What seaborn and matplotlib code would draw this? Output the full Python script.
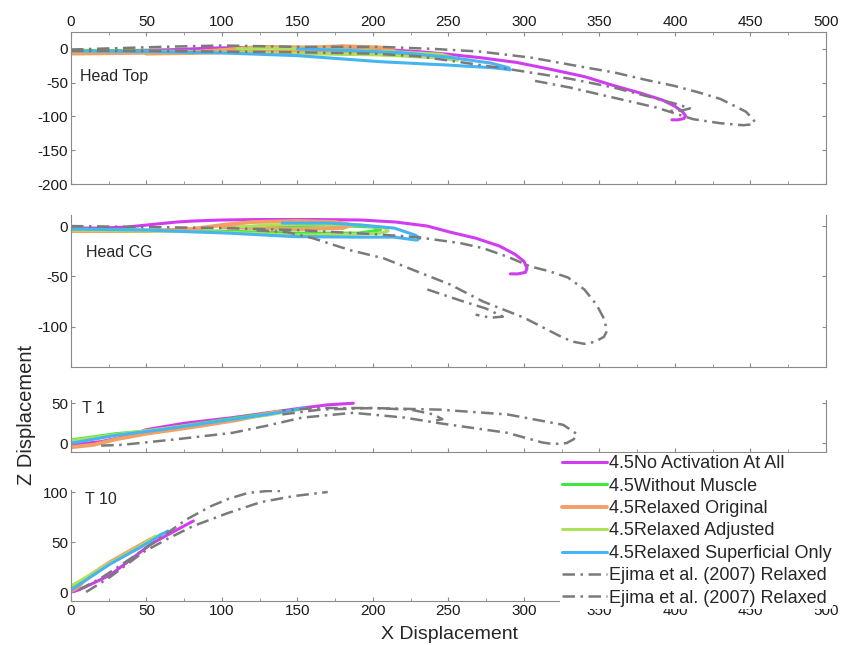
import matplotlib
matplotlib.use("Agg")
import matplotlib.pyplot as plt
import seaborn as sns
from matplotlib.ticker import MultipleLocator

sns.set_style("ticks")
plt.rcParams["font.family"] = ["Liberation Sans", "DejaVu Sans"]
plt.rcParams["axes.unicode_minus"] = False

SERIES = [
    "4.5No Activation At All",
    "4.5Without Muscle",
    "4.5Relaxed Original",
    "4.5Relaxed Adjusted",
    "4.5Relaxed Superficial Only",
    "Ejima et al. (2007) Relaxed",
    "Ejima et al. (2007) Relaxed ",
]
COLORS = ["#d23cf0", "#3ee83e", "#f2a064", "#aee15a", "#46b4f0", "#7a7a7a", "#7a7a7a"]

# ---- Head Top ----
top_noact_x = [0, 40, 70, 90, 110, 150, 200, 230, 250, 271, 295, 315, 340, 359, 378, 392, 400, 405, 407, 406, 402, 398]
top_noact_y = [-3, -2.5, -1, 1, 2, 2, 0, -4, -8, -13, -20, -29, -41, -54, -66, -76, -85, -93, -99, -103, -105, -105]
top_nomus_x = [0, 50, 100, 150, 200, 235, 248, 240, 215, 185, 150]
top_nomus_y = [-2, -3, -4, -6, -8, -11, -14, -9, -5, -2, 0]
top_orig_x = [0, 40, 80, 105, 125, 160, 180, 205, 214, 200, 170, 140, 110, 80, 50]
top_orig_y = [-7, -6, -5, -1, 3, 2, 4, 2, -3, -6, -5, -4, -5, -6, -7]
top_adj_x = [0, 50, 100, 150, 205, 240, 256, 255, 245, 220, 190, 160, 130, 110]
top_adj_y = [-3, -4, -5, -7, -9, -13, -17, -14, -8, -5, -2, 0, 1, 0]
top_sup_x = [0, 50, 100, 150, 205, 250, 280, 288, 291, 290, 278, 249, 220, 180, 150]
top_sup_y = [-3, -4, -6, -10, -19, -24, -28, -30, -31, -28, -21, -12, -6, -2, 0]
top_ej1_x = [0, 30, 60, 100, 150, 205, 240, 271, 305, 337, 360, 381, 400, 415, 430, 440, 447, 450, 453, 450, 445, 430, 412, 388, 359, 330, 304]
top_ej1_y = [-1, 1, 3, 5, 3, 3, 0, -4, -13, -26, -35, -46, -55, -64, -74, -85, -93, -100, -108, -112, -113, -110, -104, -87, -72, -57, -46]
top_ej2_x = [0, 50, 100, 150, 200, 230, 256, 293, 330, 359, 385, 400, 410, 405, 396]
top_ej2_y = [-3, -3, -4, -5, -7, -11, -19, -31, -44, -57, -72, -81, -88, -91, -92]

# ---- Head CG ----
cg_noact_x = [0, 20, 37, 50, 60, 70, 81, 100, 126, 160, 192, 215, 236, 251, 268, 284, 294, 300, 302, 301, 296, 291]
cg_noact_y = [-2, -2, -1, 1, 2.5, 4, 5, 6, 6.5, 6.5, 6, 4, 0, -6, -12, -20, -28, -35, -42, -46, -47.5, -47.5]
cg_nomus_x = [0, 50, 100, 150, 190, 205, 200, 170, 130]
cg_nomus_y = [-3, -4, -5, -7, -7, -4, -1, 1, 0]
cg_orig_x = [0, 50, 80, 100, 120, 150, 175, 186, 180, 150, 120, 100]
cg_orig_y = [-5, -5, -3, 1, 4, 5, 4, 1, -2, -3, -2, -1]
cg_adj_x = [0, 50, 100, 148, 190, 205, 210, 208, 192, 160, 130, 110]
cg_adj_y = [-4, -5, -6, -9, -8, -7, -5, -2, 1, 2, 1, -1]
cg_sup_x = [0, 50, 104, 148, 190, 214, 224, 229, 231, 228, 220, 214, 192, 170, 140]
cg_sup_y = [-3, -4, -7, -10.5, -11, -11, -13, -14, -12, -9, -5, -2, 1, 3, 3]
cg_ej1_x = [0, 50, 100, 150, 200, 229, 258, 273, 290, 304, 317, 329, 340, 348, 353, 355, 353, 347, 340, 333, 326, 300, 273, 251, 229, 207, 185, 160, 143, 120]
cg_ej1_y = [0, -1, -2, -4, -8, -11, -17, -22, -31, -40, -45, -51, -63, -78, -92, -104, -110, -115, -117, -115, -111, -91, -75, -58, -45, -32, -24, -12, -6, -4]
cg_ej2_x = [236, 258, 275, 286, 278, 268]
cg_ej2_y = [-63, -74, -82, -90, -91, -88]

# ---- T 1 ----
t1_noact_x = [0, 20, 40, 50, 75, 107, 130, 153, 170, 187]
t1_noact_y = [-2, 2, 10, 17, 25, 32, 38, 44, 48, 50]
t1_nomus_x = [0, 30, 55, 100, 140]
t1_nomus_y = [4, 12, 16, 29, 40]
t1_orig_x = [0, 15, 30, 50, 80, 110, 139]
t1_orig_y = [-5, -2, 5, 12, 20, 29, 40]
t1_adj_x = [0, 30, 60, 100, 130, 151]
t1_adj_y = [3, 11, 18, 28, 35, 42]
t1_sup_x = [0, 30, 60, 100, 130, 155]
t1_sup_y = [0, 10, 17, 28, 36, 44]
t1_ej1_x = [20, 34, 70, 107, 130, 153, 187, 221, 244, 289, 312, 319, 328, 333, 335, 326, 289, 244, 199, 164, 140]
t1_ej1_y = [-3, -2, 5, 13, 22, 32, 38, 32, 25, 13, 1, -1, 0, 5, 11.5, 23, 36, 42, 44, 44, 41]
t1_ej2_x = [140, 165, 200, 225, 240, 246, 238]
t1_ej2_y = [36, 42, 44, 42, 36, 30, 27]

# ---- T 10 ----
t10_noact_x = [0, 5, 15, 26, 40, 53, 65, 81]
t10_noact_y = [0, 2, 9, 17, 33, 48, 58, 71]
t10_nomus_x = [0, 10, 26, 45, 60]
t10_nomus_y = [4, 14, 29, 44, 58]
t10_orig_x = [0, 5, 10, 26, 40, 53, 57]
t10_orig_y = [1, 5, 14, 30, 42, 53, 55]
t10_adj_x = [0, 8, 26, 45, 56]
t10_adj_y = [6, 13, 29, 45, 56]
t10_sup_x = [0, 10, 26, 45, 64]
t10_sup_y = [2, 12, 28, 44, 61]
t10_ej1_x = [10, 25, 48, 65, 81, 104, 126, 148, 170]
t10_ej1_y = [0, 14, 40, 54, 66, 79, 90, 96, 100]
t10_ej2_x = [5, 20, 40, 60, 77, 93, 104, 117, 130, 140]
t10_ej2_y = [2, 14, 34, 55, 73, 86, 93, 99, 101, 101]

PANELS = [
    ("Head Top", (-200, 25), [-200, -150, -100, -50, 0],
     [(top_noact_x, top_noact_y), (top_nomus_x, top_nomus_y), (top_orig_x, top_orig_y),
      (top_adj_x, top_adj_y), (top_sup_x, top_sup_y), (top_ej1_x, top_ej1_y), (top_ej2_x, top_ej2_y)]),
    ("Head CG", (-140, 11), [-100, -50, 0],
     [(cg_noact_x, cg_noact_y), (cg_nomus_x, cg_nomus_y), (cg_orig_x, cg_orig_y),
      (cg_adj_x, cg_adj_y), (cg_sup_x, cg_sup_y), (cg_ej1_x, cg_ej1_y), (cg_ej2_x, cg_ej2_y)]),
    ("T 1", (-11, 54), [0, 50],
     [(t1_noact_x, t1_noact_y), (t1_nomus_x, t1_nomus_y), (t1_orig_x, t1_orig_y),
      (t1_adj_x, t1_adj_y), (t1_sup_x, t1_sup_y), (t1_ej1_x, t1_ej1_y), (t1_ej2_x, t1_ej2_y)]),
    ("T 10", (-9, 102), [0, 50, 100],
     [(t10_noact_x, t10_noact_y), (t10_nomus_x, t10_nomus_y), (t10_orig_x, t10_orig_y),
      (t10_adj_x, t10_adj_y), (t10_sup_x, t10_sup_y), (t10_ej1_x, t10_ej1_y), (t10_ej2_x, t10_ej2_y)]),
]

# axes boxes in figure fractions (left, bottom, width, height)
BOXES = [
    (0.0844, 0.7147, 0.8977, 0.2357),
    (0.0844, 0.4310, 0.8977, 0.2357),
    (0.0844, 0.2992, 0.8977, 0.0806),
    (0.0844, 0.0682, 0.8977, 0.1721),
]
LABEL_POS = [(0.012, 0.71), (0.02, 0.75), (0.015, 0.83), (0.019, 0.91)]

fig = plt.figure(figsize=(8.41, 6.45), dpi=100)
EJ_STYLE = (0, (5, 2.2, 1, 2.2))
spine_col = "#8a8a8a"

axes = []
for i, (name, ylim, yticks, curves) in enumerate(PANELS):
    ax = fig.add_axes(BOXES[i])
    axes.append(ax)
    for j, (xs, ys) in enumerate(curves):
        if j < 5:
            lw = 2.8 if j == 2 else 2.2
            sns.lineplot(x=xs, y=ys, sort=False, estimator=None, ax=ax, color=COLORS[j],
                         lw=lw, label=SERIES[j], solid_capstyle="round")
        else:
            sns.lineplot(x=xs, y=ys, sort=False, estimator=None, ax=ax, color=COLORS[j],
                         lw=1.8, linestyle=EJ_STYLE, label=SERIES[j])
    ax.set_xlim(0, 500)
    ax.set_ylim(*ylim)
    ax.set_yticks(yticks)
    ax.xaxis.set_major_locator(MultipleLocator(50))
    ax.xaxis.set_minor_locator(MultipleLocator(25))
    ax.tick_params(axis="both", which="both", direction="in", colors=spine_col,
                   labelcolor="#1a1a1a", labelsize=11, length=3, right=True, pad=2)
    ax.tick_params(axis="x", which="minor", length=2)
    for s in ax.spines.values():
        s.set_color(spine_col)
        s.set_linewidth(0.8)
    ax.text(LABEL_POS[i][0], LABEL_POS[i][1], name, transform=ax.transAxes,
            fontsize=11.5, va="center", ha="left")
    ax.get_legend().remove()
    ax.set_xlabel("")
    ax.set_ylabel("")
    if i == 0:
        ax.tick_params(axis="x", which="both", top=True, labeltop=True, labelbottom=False)
    elif i < 3:
        ax.spines["top"].set_visible(False)
        ax.tick_params(axis="x", labelbottom=False)
    else:
        ax.spines["top"].set_visible(False)

handles, labels = axes[-1].get_legend_handles_labels()
leg = fig.legend(handles, labels, loc="upper left", bbox_to_anchor=(0.666, 0.297),
                 fontsize=13, frameon=True, handlelength=2.5, handletextpad=0.1,
                 labelspacing=0.3, borderpad=0.1, borderaxespad=0)
leg.get_frame().set_facecolor("white")
leg.get_frame().set_edgecolor("none")
leg.get_frame().set_alpha(1)
leg.set_zorder(10)

fig.text(0.534, 0.017, "X Displacement", fontsize=14, ha="center", va="center")
fig.text(0.031, 0.357, "Z Displacement", fontsize=14.5, ha="center", va="center", rotation=90)

fig.savefig("out.png", dpi=100)
